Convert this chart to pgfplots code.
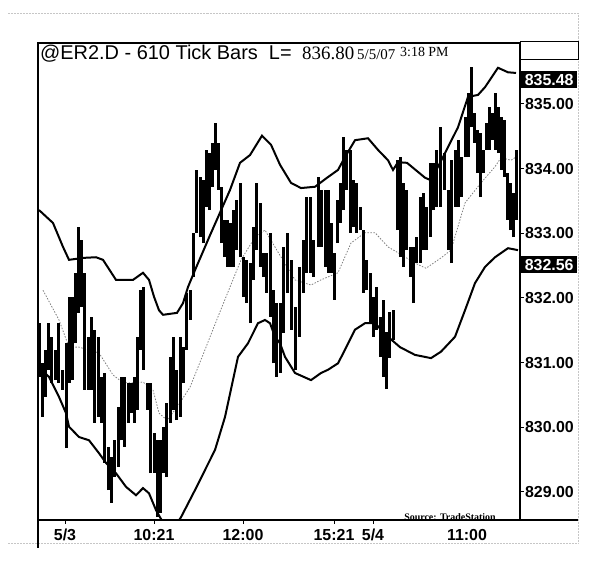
\documentclass[border=0pt]{standalone}
\usepackage{pgfplots}
\pgfplotsset{compat=1.18}
\usepackage{pgfplotstable}
\usepackage{fontspec}
\setmainfont{Liberation Sans}
\newfontfamily\serif{Liberation Serif}

\pgfplotstableread{
x lo hi
39 830.78 831.61
42 830.16 830.99
45 830.47 831.20
48 830.89 831.61
51 830.69 831.40
55 830.73 831.20
58 830.69 831.61
62 830.58 830.89
66 829.68 831.30
69 830.69 832.02
72 830.73 832.02
75 831.30 832.39
78 831.77 833.10
81 831.86 832.90
84 830.58 832.39
88 830.58 831.40
91 830.58 831.71
94 830.07 831.51
98 830.16 831.40
101 830.07 830.78
104 829.45 830.84
108 829.03 829.70
111 828.83 829.54
114 829.23 829.80
118 829.39 830.31
121 829.80 830.78
124 829.70 830.78
128 830.07 830.69
131 830.22 830.69
134 830.07 830.78
137 830.27 831.40
140 831.20 832.12
143 830.89 832.17
147 830.27 830.69
150 829.29 830.69
154 829.29 829.91
157 828.61 829.80
160 828.68 829.80
163 829.29 830.01
166 829.23 830.38
170 830.07 831.09
173 830.27 831.40
176 830.11 830.89
180 830.16 831.40
183 830.69 831.24
186 831.20 832.08
190 831.66 832.12
193 832.33 833.01
196 833.01 833.98
200 832.94 833.87
203 832.85 833.82
206 833.41 834.29
209 833.36 834.24
212 833.72 834.40
215 833.98 834.71
218 833.67 834.40
221 832.85 833.72
224 832.63 833.21
227 832.48 833.21
230 832.48 833.16
233 832.48 833.36
236 832.74 833.52
240 832.63 833.78
243 832.02 832.63
246 831.92 832.59
250 831.61 832.54
253 832.28 833.10
256 832.74 833.78
260 832.48 833.47
263 832.33 832.70
266 832.08 832.70
270 831.71 833.01
273 830.99 832.12
276 830.78 831.92
280 830.84 831.92
283 831.46 832.79
287 832.08 833.01
291 831.51 832.59
295 830.89 831.86
299 831.40 832.48
303 832.08 832.90
306 832.39 833.56
310 832.39 833.56
313 832.33 832.90
318 832.79 833.87
321 832.79 833.67
325 832.48 833.67
328 832.39 833.67
331 832.39 833.16
334 831.97 832.70
337 832.85 833.52
340 833.16 833.78
343 833.36 834.49
346 833.67 834.29
350 833.01 834.29
353 833.10 833.82
356 833.01 833.78
360 833.05 833.41
363 832.08 833.05
366 832.12 832.59
370 831.61 832.39
373 831.40 832.02
376 831.51 832.17
380 831.09 831.71
383 830.78 831.97
386 830.59 831.47
389 831.07 831.78
393 831.35 831.81
397 833.05 834.13
400 832.63 834.18
403 832.48 833.78
406 832.74 833.67
410 832.33 832.79
413 831.92 832.79
416 832.54 832.94
420 832.54 833.56
423 832.74 833.62
426 832.74 833.41
430 832.94 834.09
433 833.36 834.09
436 833.41 834.29
440 833.41 834.64
444 833.67 834.24
448 832.74 833.67
451 832.54 834.13
455 833.41 834.29
458 833.41 834.44
461 833.56 834.18
465 834.18 834.80
468 834.18 835.17
471 834.64 835.57
474 834.40 834.86
477 833.93 834.60
480 833.56 834.55
483 833.93 834.29
486 834.29 834.71
489 834.29 834.95
492 834.44 834.86
495 834.29 835.17
498 834.24 834.95
501 833.98 834.80
504 833.87 834.75
507 833.21 833.93
510 833.05 833.78
513 832.94 833.62
516 833.21 834.29
}\bars

\pgfplotstableread{
x y
39 833.36
53 833.16
63 832.79
69 832.59
83 832.62
96 832.63
103 832.59
116 832.28
133 832.28
143 832.39
149 832.28
154 832.02
159 831.81
163 831.74
177 831.77
183 831.92
188 832.17
195 832.43
210 832.97
230 833.67
240 834.09
250 834.21
262 834.51
271 834.37
280 834.06
291 833.78
301 833.70
315 833.72
328 833.87
338 833.98
345 834.18
355 834.44
368 834.47
378 834.29
388 834.13
393 833.98
398 834.10
407 834.09
425 833.86
431 833.82
445 834.24
458 834.64
468 835.11
478 835.14
485 835.26
498 835.56
508 835.49
516 835.48
}\upperband

\pgfplotstableread{
x y
39 830.93
49 830.78
59 830.47
66 830.22
69 830.01
79 829.85
89 829.80
99 829.60
106 829.45
116 829.29
126 829.08
136 828.95
143 829.06
149 828.98
156 828.72
160 828.61
170 828.35
181 828.61
195 829.03
215 829.65
225 830.16
238 831.09
248 831.30
258 831.61
265 831.66
270 831.61
275 831.40
280 831.30
285 831.09
295 830.84
311 830.73
321 830.84
328 830.89
338 830.99
345 831.20
355 831.51
365 831.61
375 831.61
388 831.40
400 831.24
415 831.12
431 831.07
441 831.17
455 831.40
465 831.81
475 832.23
485 832.48
495 832.63
508 832.77
518 832.74
}\lowerband

\pgfplotstableread{
x y
43 832.12
59 831.66
69 831.24
79 831.24
99 831.15
113 830.81
123 830.69
133 830.69
143 830.70
153 830.58
159 830.22
167 830.11
177 830.31
190 830.62
205 831.20
218 831.71
241 832.59
255 832.94
265 833.05
278 832.71
295 832.28
311 832.20
321 832.28
338 832.39
351 832.85
365 833.01
375 833.01
388 832.79
398 832.70
415 832.54
426 832.46
441 832.62
451 832.74
465 833.47
481 833.78
495 834.03
501 834.17
511 834.13
516 834.18
}\maline

\begin{document}
\begin{tikzpicture}
\path[use as bounding box] (0,0) rectangle (597bp,568bp);
% faint outer border
\draw[gray!45, densely dotted, line width=0.5bp] (8bp,555bp) -- (578bp,555bp) -- (578bp,25bp) -- (8bp,25bp);
\begin{axis}[
  at={(38bp,48bp)}, anchor=south west,
  scale only axis, width=482bp, height=477bp,
  xmin=38, xmax=520, ymin=828.567, ymax=835.943,
  axis line style={line width=1.2bp},
  xtick={65,154,243,334,373},
  xticklabels={5/3,10:21,12:00,15:21,5/4},
  extra x ticks={467}, extra x tick labels={11:00},
  extra x tick style={major tick style={draw=none}},
  ytick={829,830,831,832,833,834,835},
  xtick pos=left, ytick pos=right, yticklabel pos=right,
  tick align=outside, major tick length=4bp,
  tick style={black, line width=1bp},
  ticklabel style={font=\bfseries\fontsize{16}{18}\selectfont},
  xticklabel style={yshift=-1.5bp},
  yticklabel style={xshift=-2.5bp, /pgf/number format/.cd, fixed, fixed zerofill, precision=2, assume math mode=true},
  /pgf/number format/assume math mode=true,
]
\addplot[gray, line width=0.8bp, dash pattern=on 1.5bp off 1.5bp] table[x=x,y=y] {\maline};
\addplot[draw=none, mark=none,
  error bars/.cd, y dir=plus, y explicit, error mark=none,
  error bar style={draw=black, solid, line width=3bp}]
  table[x=x, y=lo, y error expr=\thisrow{hi}-\thisrow{lo}] {\bars};
\addplot[black, line width=2bp] table[x=x,y=y] {\upperband};
\addplot[black, line width=2bp] table[x=x,y=y] {\lowerband};
\end{axis}
% title
\node[anchor=base west, inner sep=0pt, font=\fontsize{20}{23}\selectfont] at (40bp,508.5bp) {@ER2.D - 610 Tick Bars\ \ L=};
\node[anchor=base west, inner sep=0pt, font=\serif\fontsize{19}{22}\selectfont] at (302bp,508.5bp) {836.80};
\node[anchor=base west, inner sep=0pt, font=\serif\fontsize{15}{17}\selectfont] at (357bp,508.5bp) {5/5/07};
\node[anchor=base west, inner sep=0pt, font=\serif\fontsize{14}{16}\selectfont] at (400bp,511bp) {3:18 PM};
% right top box and extensions
\draw[line width=1bp] (520bp,526bp) rectangle (578bp,508bp);
\draw[line width=1.2bp] (520bp,48bp) -- (578bp,48bp);
\draw[line width=1.2bp] (38bp,48bp) -- (38bp,20bp);
% current value labels
\node[fill=black, text=white, font=\bfseries\fontsize{16}{18}\selectfont, minimum width=56bp, minimum height=17bp, inner sep=0pt, anchor=west] at (521bp,488bp) {835.48};
\node[fill=black, text=white, font=\bfseries\fontsize{16}{18}\selectfont, minimum width=56bp, minimum height=17bp, inner sep=0pt, anchor=west] at (521bp,303bp) {832.56};
\node[font=\serif\bfseries\fontsize{10}{11}\selectfont, inner sep=0pt] at (450bp,51bp) {Source: TradeStation};
\end{tikzpicture}
\end{document}
